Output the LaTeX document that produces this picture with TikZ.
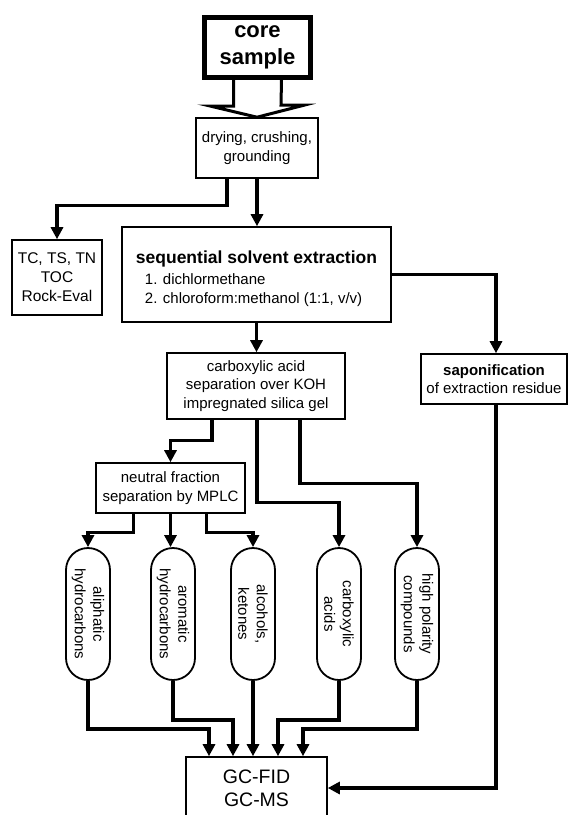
\documentclass[tikz,border=0pt]{standalone}
\usepackage{fontspec}
\setmainfont{Liberation Sans}
\usetikzlibrary{arrows.meta}
\begin{document}
\begin{tikzpicture}[x=1pt,y=-1pt,
  box/.style={draw, line width=1.6pt, inner sep=0pt, align=center, font=\fontsize{15}{18.5}\selectfont},
  pill/.style={draw, line width=1.8pt, rounded corners=22pt, minimum width=132pt, minimum height=44pt, inner sep=0pt, align=center, rotate=-90, font=\fontsize{15}{18.5}\selectfont},
  arr/.style={line width=3.2pt, -{Triangle[width=12pt,length=12pt]}},
  hollow/.style={line width=3pt, line join=miter}]
\useasboundingbox (0,0) rectangle (569,815);
\clip (0,0) rectangle (569,815);

\node[draw, line width=5pt, minimum width=106pt, minimum height=60pt, inner sep=0pt, align=center, font=\bfseries\fontsize{22}{27}\selectfont] (core) at (257.5,47.5) {core\\sample};
\node[box, minimum width=122pt, minimum height=60pt] (dry) at (257,148) {drying, crushing,\\grounding};
\node[box, minimum width=90pt, minimum height=75pt, font=\fontsize{15.5}{19}\selectfont] (tc) at (57,277.5) {TC, TS, TN\\TOC\\Rock-Eval};
\node[box, minimum width=269pt, minimum height=95pt] (ext) at (256.5,274.5) {};
\node[inner sep=0pt, align=left, font=\fontsize{15}{19}\selectfont] (exttxt) at ([yshift=-4pt]ext.center) {{\bfseries\fontsize{17.5}{21}\selectfont sequential solvent extraction}\\[1.5pt]\hspace*{9pt}1. dichlormethane\\\hspace*{9pt}2. chloroform:methanol (1:1, v/v)};
\node[box, minimum width=146pt, minimum height=50pt] (sapon) at (494,379) {\textbf{saponification}\\of extraction residue};
\node[box, minimum width=178pt, minimum height=66pt] (carb) at (256,386) {carboxylic acid\\separation over KOH\\impregnated silica gel};
\node[box, minimum width=149pt, minimum height=50pt] (neut) at (170.5,488) {neutral fraction\\separation by MPLC};
\node[pill] (al) at (88,614) {aliphatic\\hydrocarbons};
\node[pill] (ar) at (173,614) {aromatic\\hydrocarbons};
\node[pill] (alc) at (253,614) {alcohols,\\ketones};
\node[pill] (ca) at (339,614) {carboxylic\\acids};
\node[pill] (hp) at (417,614) {high polarity\\compounds};
\node[box, minimum width=141pt, minimum height=62pt, font=\fontsize{19.5}{23}\selectfont] (gc) at (256.5,788) {GC-FID\\GC-MS};

\draw[hollow] ([xshift=-24pt]core.south) -- ++(0,26) -- ++(-23.5,0) -- (dry.north) -- ++(47,-12) -- ++(-23,0) -- ([xshift=24pt]core.south);

\draw[arr] ([xshift=-30pt]dry.south) -- ++(0,27) -| (tc.north);
\draw[arr] (dry.south) -- (dry.south |- ext.north);
\draw[arr] (ext.east) -| ([xshift=2pt]sapon.north);
\draw[arr] (ext.south) -- (ext.south |- carb.north);
\draw[arr] ([xshift=-44pt]carb.south) -- ++(0,21) -| (neut.north);
\draw[arr] ([xshift=1pt]carb.south) -- ++(0,83) -| (ca.west);
\draw[arr] ([xshift=44pt]carb.south) -- ++(0,64) -| (hp.west);
\draw[arr] ([xshift=-37pt]neut.south) -- ++(0,19) -| (al.west);
\draw[arr] (neut.south) -- (neut.south |- ar.west);
\draw[arr] ([xshift=36pt]neut.south) -- ++(0,19) -| (alc.west);
\draw[arr] (al.east) -- ++(0,48) -| ([xshift=-47.5pt]gc.north);
\draw[arr] (ar.east) -- ++(0,39) -| ([xshift=-23.5pt]gc.north);
\draw[arr] (alc.east) -- (alc.east |- gc.north);
\draw[arr] (ca.east) -- ++(0,39) -| ([xshift=21.5pt]gc.north);
\draw[arr] (hp.east) -- ++(0,48) -| ([xshift=46.5pt]gc.north);
\draw[arr] ([xshift=2pt]sapon.south) |- (gc.east);
\end{tikzpicture}
\end{document}
